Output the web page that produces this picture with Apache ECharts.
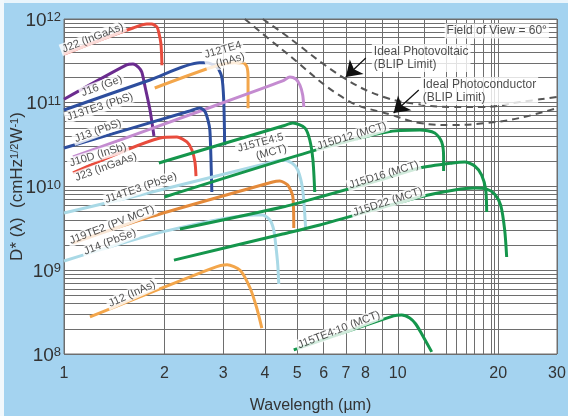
<!DOCTYPE html>
<html>
<head>
<meta charset="utf-8">
<script src="https://cdn.jsdelivr.net/npm/echarts@6/dist/echarts.min.js"></script>
<style>
  html, body { margin: 0; padding: 0; background: #a4d3f0; }
  #chart { width: 568px; height: 416px; }
</style>
</head>
<body>
<div id="chart"></div>
<script>
// Axis ticks and grid positions (wavelength in µm, detectivity in cmHz^1/2/W)
const wavelengthTicks = [1, 2, 3, 4, 5, 6, 7, 8, 10, 20, 30];
const wavelengthGrid = [1, 2, 3, 4, 5, 6, 7, 8, 9, 10, 12, 14, 15, 16, 17, 18, 19, 19.5, 20, 30];
const detectivityTicks = [1e8, 1e9, 1e10, 1e11, 1e12];
const detectivityGrid = [];
for (let e = 8; e < 12; e++) {
  for (let m = 1; m <= 9; m++) detectivityGrid.push(m * Math.pow(10, e));
}
detectivityGrid.push(1e12);

// Spectral D* curves: [wavelength (µm), D* (cmHz^1/2 W^-1)]
const j22 = [[1.0, 3.8e11], [1.28, 5.6e11], [1.61, 7.8e11], [1.77, 8.7e11], [1.83, 8.7e11], [1.90, 8.0e11], [1.925, 6.8e11], [1.95, 5.2e11], [1.96, 3.9e11], [1.965, 2.8e11]];
const j16 = [[1.0, 1.1e11], [1.54, 2.83e11], [1.61, 2.9e11], [1.67, 2.67e11], [1.71, 2.33e11], [1.75, 1.54e11], [1.81, 8.2e10], [1.86, 4.0e10]];
const j13te3 = [[1.0, 8.2e10], [1.81, 1.87e11], [2.55, 3.0e11], [2.68, 3.0e11], [2.87, 2.67e11], [2.97, 2.03e11], [3.01, 1.08e11], [3.03, 3.1e10]];
const j12te4 = [[1.87, 1.5e11], [2.79, 2.67e11], [3.25, 3.0e11], [3.44, 3.0e11], [3.53, 2.7e11], [3.56, 2.03e11], [3.56, 8.6e10]];
const j13 = [[1.0, 2.88e10], [2.38, 7.96e10], [2.55, 8.65e10], [2.64, 7.96e10], [2.70, 6.22e10], [2.735, 4.73e10], [2.754, 2.38e10], [2.773, 8.6e9]];
const j10d = [[1.064, 2.25e10], [2.61, 8.2e10], [4.52, 1.82e11], [4.75, 2.03e11], [4.95, 1.92e11], [5.09, 1.63e11], [5.19, 1.24e11], [5.23, 8.9e10]];
const j23 = [[1.064, 1.45e10], [1.94, 3.79e10], [2.18, 3.9e10], [2.335, 3.4e10], [2.417, 2.73e10], [2.468, 1.96e10], [2.486, 1.33e10]];
const j15te4x5 = [[1.924, 1.91e10], [4.52, 5.27e10], [4.85, 5.73e10], [5.27, 5.0e10], [5.45, 3.59e10], [5.57, 2.07e10], [5.64, 8.6e9]];
const j14te3 = [[1.0, 4.83e9], [1.69, 7.93e9], [4.22, 1.96e10], [4.52, 2.07e10], [4.82, 1.91e10], [5.02, 1.57e10], [5.19, 9.1e9], [5.30, 3.03e9]];
const j19te2 = [[1.064, 2.11e9], [1.69, 3.98e9], [4.22, 1.13e10], [4.43, 1.16e10], [4.68, 1.04e10], [4.85, 7.5e9], [4.88, 3.19e9]];
const j14 = [[1.0, 1.29e9], [2.03, 2.95e9], [3.73, 4.57e9], [3.94, 4.57e9], [4.14, 3.98e9], [4.25, 3.03e9], [4.31, 2.0e9], [4.37, 1.16e9], [4.40, 6.86e8]];
const j12 = [[1.196, 2.77e8], [2.79, 1.06e9], [3.08, 1.16e9], [3.37, 1.0e9], [3.61, 6.14e8], [3.78, 3.54e8], [3.915, 2.04e8]];
const j15d12 = [[2.0, 7.5e9], [5.84, 2.81e10], [9.27, 4.48e10], [11.64, 4.73e10], [12.91, 4.36e10], [13.54, 3.4e10], [13.72, 2.25e10], [13.72, 1.53e10]];
const j15d16 = [[2.225, 3.11e9], [4.52, 5.69e9], [5.84, 7.5e9], [9.27, 1.26e10], [11.64, 1.66e10], [14.61, 1.91e10], [15.87, 1.96e10], [17.0, 1.76e10], [17.84, 1.37e10], [18.35, 9.1e9], [18.47, 4.97e9]];
const j15d22 = [[2.135, 1.32e9], [4.52, 2.71e9], [5.84, 3.47e9], [11.64, 7.5e9], [14.81, 9.1e9], [17.0, 9.6e9], [18.47, 9.3e9], [19.52, 8.1e9], [20.34, 6.0e9], [20.91, 3.03e9], [21.2, 1.44e9]];
const j15te4x10 = [[4.88, 1.12e8], [9.72, 2.85e8], [10.28, 2.92e8], [10.86, 2.69e8], [11.32, 2.28e8], [11.80, 1.73e8], [12.64, 1.06e8]];

// Background-limited (BLIP) ideal detectors, 60° field of view
const blipPhotovoltaic = [[3.94, 1e12], [4.52, 6.81e11], [6.89, 1.98e11], [9.08, 1.17e11], [11.4, 9.66e10], [14.41, 8.9e10], [18.08, 8.9e10], [23.2, 1.02e11], [30, 1.17e11]];
const blipPhotoconductor = [[3.48, 1e12], [4.52, 4.27e11], [7.04, 1.08e11], [9.6, 7.15e10], [11.64, 5.73e10], [14.61, 5.42e10], [18.47, 5.73e10], [23.2, 6.58e10], [30, 8.65e10]];

const FONT = "'Liberation Sans', Arial, Helvetica, sans-serif";
const colors = {
  red: '#e84c3d', purple: '#6b2c8f', navy: '#2d4e9e', orange: '#f3a64b',
  orangeDark: '#e48a3a', violet: '#c48bd0', green: '#15964c', sky: '#a9d9e6'
};

const curves = [
  { name: 'J22 (InGaAs)', data: j22, color: colors.red },
  { name: 'J16 (Ge)', data: j16, color: colors.purple },
  { name: 'J13TE3 (PbS)', data: j13te3, color: colors.navy },
  { name: 'J12TE4 (InAs)', data: j12te4, color: colors.orange },
  { name: 'J10D (InSb)', data: j10d, color: colors.violet },
  { name: 'J13 (PbS)', data: j13, color: colors.navy },
  { name: 'J23 (InGaAs)', data: j23, color: colors.red },
  { name: 'J14TE3 (PbSe)', data: j14te3, color: colors.sky },
  { name: 'J14 (PbSe)', data: j14, color: colors.sky },
  { name: 'J19TE2 (PV MCT)', data: j19te2, color: colors.orangeDark },
  { name: 'J15TE4:5 (MCT)', data: j15te4x5, color: colors.green },
  { name: 'J15D12 (MCT)', data: j15d12, color: colors.green },
  { name: 'J15D16 (MCT)', data: j15d16, color: colors.green },
  { name: 'J15D22 (MCT)', data: j15d22, color: colors.green },
  { name: 'J12 (InAs)', data: j12, color: colors.orange },
  { name: 'J15TE4:10 (MCT)', data: j15te4x10, color: colors.green }
];

// Curve captions, anchored in data space: [text, [λ, D*], angle, align]
const captions = [
  ['J22 (InGaAs)', [1.221, 5.93e11], 21, 'center'],
  ['J16 (Ge)', [1.299, 1.58e11], 20, 'center'],
  ['J13TE3 (PbS)', [1.282, 8.9e10], 18, 'center'],
  ['J13 (PbS)', [1.264, 4.6e10], 20, 'center'],
  ['J10D (InSb)', [1.264, 2.38e10], 17, 'center'],
  ['J23 (InGaAs)', [1.336, 1.71e10], 20, 'center'],
  ['J12TE4\n(InAs)', [3.48, 4.27e11], 16, 'right'],
  ['J14TE3 (PbSe)', [1.70, 9.6e9], 19, 'center'],
  ['J15TE4:5\n(MCT)', [4.65, 3.4e10], 15, 'right'],
  ['J19TE2 (PV MCT)', [1.392, 3.47e9], 21, 'center'],
  ['J14 (PbSe)', [1.373, 2.17e9], 21, 'center'],
  ['J12 (InAs)', [1.598, 5.2e8], 24, 'center'],
  ['J15D12 (MCT)', [7.28, 4.0e10], 17, 'center'],
  ['J15D16 (MCT)', [9.08, 1.37e10], 17, 'center'],
  ['J15D22 (MCT)', [9.33, 6.53e9], 18, 'center'],
  ['J15TE4:10 (MCT)', [6.66, 1.94e8], 21, 'center']
];
const notes = [
  ['Field of View = 60°', [19.8, 7.2e11], 'center'],
  ['Ideal Photovoltaic\n(BLIP Limit)', [8.36, 3.42e11], 'left'],
  ['Ideal Photoconductor\n(BLIP Limit)', [11.72, 1.38e11], 'left']
];
const pointers = [
  [[8.02, 3.42e11], [6.99, 2.03e11]],
  [[11.56, 1.42e11], [9.72, 7.55e10]]
];

const series = curves.map(c => ({
  type: 'line', name: c.name, data: c.data, showSymbol: false, symbol: 'none',
  smooth: 0.25, lineStyle: { color: c.color, width: 3 }, z: 3, silent: true
}));

series.push({
  type: 'line', name: 'Ideal Photovoltaic (BLIP Limit)', data: blipPhotovoltaic,
  showSymbol: false, symbol: 'none', smooth: 0.4, silent: true, z: 3,
  lineStyle: { color: '#555', width: 2, type: [7, 5] }
});
series.push({
  type: 'line', name: 'Ideal Photoconductor (BLIP Limit)', data: blipPhotoconductor,
  showSymbol: false, symbol: 'none', smooth: 0.4, silent: true, z: 3,
  lineStyle: { color: '#555', width: 2, type: [7, 5] },
  markLine: {
    silent: true, animation: false,
    symbol: ['none', 'arrow'], symbolSize: 15,
    lineStyle: { color: '#111', width: 1.2, type: 'solid' },
    itemStyle: { color: '#111' },
    label: { show: false },
    data: pointers.map(p => [{ coord: p[0] }, { coord: p[1] }])
  }
});

// Caption layer
series.push({
  type: 'scatter', name: 'captions', silent: true, z: 6, symbolSize: 0,
  data: captions.map(c => ({
    value: c[1],
    label: {
      show: true, position: 'inside', formatter: c[0], rotate: c[2], align: c[3],
      verticalAlign: 'middle', color: '#1e1e1e', fontSize: 11, fontFamily: FONT,
      lineHeight: 12, backgroundColor: '#fff', padding: [0, 2]
    }
  })).concat(notes.map(n => ({
    value: n[1],
    label: {
      show: true, position: 'inside', formatter: n[0], align: n[2],
      verticalAlign: 'middle', color: '#1e1e1e', fontSize: 12, fontFamily: FONT,
      lineHeight: 13, backgroundColor: '#fff', padding: [1, 2]
    }
  })))
});

const chart = echarts.init(document.getElementById('chart'), null, { renderer: 'canvas' });
chart.setOption({
  animation: false,
  backgroundColor: '#a4d3f0',
  textStyle: { fontFamily: FONT },
  // pale frame along the top and left edges of the panel
  graphic: [
    { type: 'rect', left: 0, top: 0, shape: { width: 568, height: 3 }, style: { fill: '#eaf5fc' }, silent: true },
    { type: 'rect', left: 0, top: 0, shape: { width: 4, height: 416 }, style: { fill: '#f2f8fc' }, silent: true }
  ],
  grid: {
    left: 64, right: 11, top: 19, bottom: 62, show: true,
    outerBoundsMode: 'none', containLabel: false,
    backgroundColor: '#ffffff', borderColor: '#707070', borderWidth: 1
  },
  xAxis: {
    type: 'log', logBase: 10, min: 1, max: 30,
    name: 'Wavelength (µm)', nameLocation: 'middle', nameGap: 44,
    nameTextStyle: { fontSize: 16, color: '#333', fontFamily: FONT },
    axisLine: { show: false },
    axisTick: { show: false, customValues: wavelengthGrid },
    axisLabel: {
      customValues: wavelengthTicks, fontSize: 16, color: '#333', margin: 12,
      fontFamily: FONT, formatter: v => String(Math.round(v))
    },
    splitLine: { show: true, lineStyle: { color: '#6e6e6e', width: 1 } },
    minorSplitLine: { show: false }
  },
  yAxis: {
    type: 'log', logBase: 10, min: 1e8, max: 1e12,
    name: '{t|D* (λ)  (cmHz}{s|1/2}{t|W}{s|-1}{t|)}',
    nameLocation: 'middle', nameGap: 38, nameRotate: 90, nameMoveOverlap: false,
    nameTextStyle: {
      color: '#333', fontFamily: FONT,
      rich: {
        t: { fontSize: 17, color: '#333', fontFamily: FONT },
        s: { fontSize: 11, color: '#333', fontFamily: FONT, verticalAlign: 'top' }
      }
    },
    axisLine: { show: false },
    axisTick: { show: false, customValues: detectivityGrid },
    axisLabel: {
      customValues: detectivityTicks, margin: 3, padding: [3, 0, 0, 0],
      formatter: v => '{b|10}{s|' + Math.round(Math.log10(v)) + '}',
      rich: {
        b: { fontSize: 19, color: '#333', fontFamily: FONT },
        s: { fontSize: 13, color: '#333', fontFamily: FONT, verticalAlign: 'top' }
      }
    },
    splitLine: { show: true, lineStyle: { color: '#6e6e6e', width: 1 } }
  },
  series: series
});
</script>
</body>
</html>
